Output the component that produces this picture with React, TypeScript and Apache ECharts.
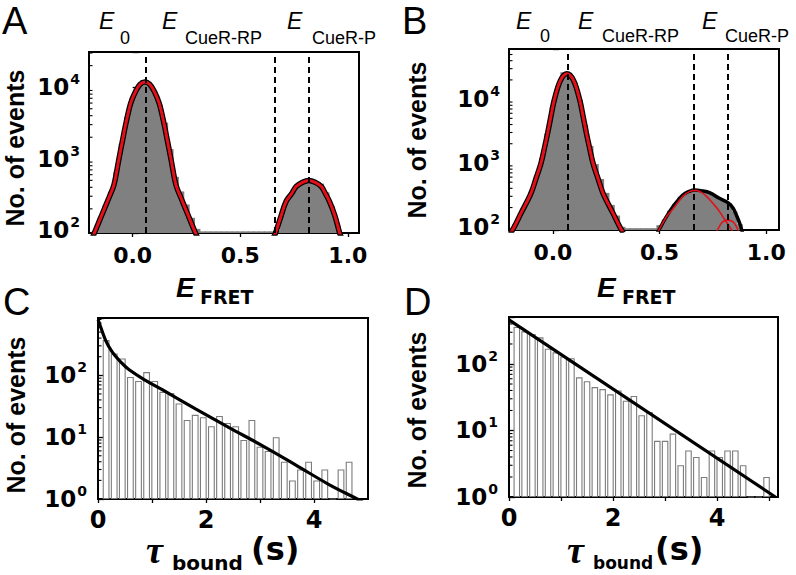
import React, { useEffect, useRef } from 'react';
import * as echarts from 'echarts';

// ---------- data ----------
const E_BINS = [-0.2, -0.175, -0.15, -0.125, -0.1, -0.075, -0.05, -0.025, 0, 0.025, 0.05, 0.075, 0.1, 0.125, 0.15, 0.175, 0.2, 0.225, 0.25, 0.275, 0.3, 0.325, 0.35, 0.375, 0.4, 0.425, 0.45, 0.475, 0.5, 0.525, 0.55, 0.575, 0.6, 0.625, 0.65, 0.675, 0.7, 0.725, 0.75, 0.775, 0.8, 0.825, 0.85, 0.875, 0.9, 0.925, 0.95, 0.975, 1.0];

const HIST_A = [63, 98, 148, 224, 347, 660, 1620, 3800, 7100, 10000, 12600, 11100, 8800, 5700, 3200, 1370, 560, 350, 230, 150, 105, 97, 97, 97, 97, 97, 97, 97, 97, 97, 97, 97, 97, 97, 97, 100, 195, 285, 370, 437, 480, 495, 470, 450, 340, 220, 120, 63, null];
const HIST_B = [76, 110, 162, 240, 355, 630, 1200, 2900, 7600, 16000, 26300, 24000, 18600, 9800, 3900, 1850, 960, 560, 340, 220, 150, 100, 95, 95, 95, 95, 95, 95, 106, 130, 178, 230, 295, 330, 363, 376, 363, 347, 316, 285, 257, 233, 174, 110, 60, null, null, null, null];

const FIT_A1 = [[-0.2, 63], [-0.178, 92], [-0.14, 174], [-0.11, 288], [-0.087, 433], [-0.065, 955], [-0.048, 1750], [-0.031, 3160], [-0.009, 6000], [0.015, 8900], [0.035, 11000], [0.057, 11800], [0.079, 11000], [0.099, 8900], [0.123, 6000], [0.145, 3160], [0.162, 1750], [0.179, 955], [0.201, 433], [0.224, 288], [0.254, 174], [0.292, 92], [0.31, 70]];
const FIT_A2 = [[0.655, 80], [0.664, 92], [0.69, 160], [0.713, 253], [0.74, 330], [0.76, 410], [0.79, 470], [0.818, 498], [0.848, 470], [0.877, 410], [0.895, 330], [0.915, 253], [0.94, 160], [0.962, 92], [0.97, 80]];
const FIT_B1 = [[-0.2, 78], [-0.181, 100], [-0.15, 162], [-0.103, 334], [-0.08, 562], [-0.056, 990], [-0.04, 1700], [-0.025, 2920], [-0.01, 5250], [0.0066, 9750], [0.035, 19500], [0.066, 24950], [0.097, 19500], [0.1254, 9750], [0.142, 5250], [0.157, 2920], [0.172, 1700], [0.188, 990], [0.212, 562], [0.235, 334], [0.282, 162], [0.313, 100], [0.33, 80]];
const FIT_B2_SUM = [[0.485, 75], [0.497, 89], [0.53, 140], [0.5625, 206], [0.609, 315], [0.64, 360], [0.664, 377], [0.7, 365], [0.734, 342], [0.78, 279], [0.825, 233], [0.845, 195], [0.86, 153], [0.875, 115], [0.885, 89], [0.892, 75]];
const FIT_B2_RP = [[0.485, 75], [0.497, 89], [0.53, 140], [0.5625, 190], [0.609, 300], [0.64, 355], [0.664, 372], [0.69, 355], [0.72, 300], [0.75, 233], [0.775, 185], [0.797, 143], [0.82, 110], [0.838, 89], [0.848, 75]];
const FIT_B2_P = [[0.762, 75], [0.772, 89], [0.789, 113], [0.805, 124], [0.82, 127], [0.835, 124], [0.851, 113], [0.868, 89], [0.878, 75]];

const DASH_A = [0.056, 0.664, 0.819];
const DASH_B = [0.067, 0.664, 0.82];

const TAU_C = [0.15, 0.3, 0.45, 0.6, 0.75, 0.9, 1.05, 1.2, 1.35, 1.5, 1.65, 1.8, 1.95, 2.1, 2.25, 2.4, 2.55, 2.7, 2.85, 3.0, 3.15, 3.3, 3.45, 3.6, 3.75, 3.9, 4.05, 4.2, 4.35, 4.5, 4.65];
const HIST_C = [371, 225, 187, 94, 81, 113, 81, 54, 52, 35, 19, 23, 21, 15, 22, 17, 15, 9, 19, 7, 6, 10, 4, 2, 3, 4, 2, 3, 1, 3, 4];
const FIT_C = [[0, 790], [0.015, 736], [0.139, 371], [0.262, 239], [0.417, 165], [0.571, 124], [0.88, 83], [1.19, 58.5], [1.806, 28.7], [2.42, 14.4], [3.04, 7.3], [3.657, 3.57], [4.27, 1.73], [4.8, 1.0], [4.9, 0.9]];

const TAU_D = [0.15, 0.3, 0.45, 0.6, 0.75, 0.9, 1.05, 1.2, 1.35, 1.5, 1.65, 1.8, 1.95, 2.1, 2.25, 2.4, 2.55, 2.7, 2.85, 3.0, 3.15, 3.3, 3.45, 3.6, 3.75, 3.9, 4.05, 4.2, 4.35, 4.5, 4.65, 4.8, 4.95];
const HIST_D = [360, 310, 283, 252, 170, 150, 130, 122, 63, 55, 45, 42, 35, 40, 28, 33, 17, 19, 7, 7, 9, 3, 5, 4, 2, 5, 4, 5, 5, 3, 1, 1, 2];
const FIT_D = [[0, 460], [5.12, 1]];

const MINOR_A = [200, 300, 400, 500, 600, 700, 800, 900, 2000, 3000, 4000, 5000, 6000, 7000, 8000, 9000, 20000, 30000];
const MINOR_B = [200, 300, 400, 500, 600, 700, 800, 900, 2000, 3000, 4000, 5000, 6000, 7000, 8000, 9000, 20000, 30000, 40000, 50000, 60000];
const MINOR_C = [2, 3, 4, 5, 6, 7, 8, 9, 20, 30, 40, 50, 60, 70, 80, 90, 200, 300, 400, 500, 600, 700, 800];
const MINOR_D = [2, 3, 4, 5, 6, 7, 8, 9, 20, 30, 40, 50, 60, 70, 80, 90, 200, 300, 400, 500];

const E_TICKS = [0, 0.5, 1.0];

// ---------- layout ----------
const AX = { xMin: -0.203, xMax: 1.052, yMin: 92, yMax: 31000 };
const BX = { xMin: -0.206, xMax: 1.06, yMin: 89, yMax: 61000 };
const CX = { xMin: 0, xMax: 5, yMin: 1, yMax: 845 };
const DX = { xMin: 0, xMax: 5.17, yMin: 1, yMax: 509 };

const TICK_FONT = 'DejaVu Sans';
const RED = '#e3101a';
const GRAY = '#808080';

function logFmt(v: number) {
  const e = Math.log10(v);
  const r = Math.round(e);
  if (Math.abs(e - r) > 1e-6) return '';
  return `{b|10}{s|${r}}`;
}

function yAxisFor(i: number, r: any, margin: number) {
  return {
    type: 'log', gridIndex: i, min: r.yMin, max: r.yMax, logBase: 10,
    axisLine: { show: false },
    axisTick: { show: true, inside: true, length: 6, lineStyle: { color: '#000', width: 1.3 } },
    splitLine: { show: false },
    axisLabel: {
      margin, formatter: logFmt,
      rich: {
        b: { fontSize: 23, fontWeight: 'bold', fontFamily: TICK_FONT, color: '#000', lineHeight: 30 },
        s: { fontSize: 14, fontWeight: 'bold', fontFamily: TICK_FONT, color: '#000', lineHeight: 13, verticalAlign: 'top', padding: [0, 0, 0, 1] },
      },
    },
  };
}

function xAxisE(i: number, r: any) {
  return {
    type: 'value', gridIndex: i, min: r.xMin, max: r.xMax,
    axisLine: { show: false },
    splitLine: { show: false },
    axisTick: { show: true, customValues: E_TICKS, length: 4, lineStyle: { color: '#000', width: 1.3 } },
    axisLabel: {
      customValues: E_TICKS, margin: 11, fontSize: 22, fontWeight: 'bold', fontFamily: TICK_FONT, color: '#000',
      formatter: (v: number) => v.toFixed(1),
    },
  };
}

function xAxisT(i: number, r: any) {
  return {
    type: 'value', gridIndex: i, min: r.xMin, max: r.xMax, interval: 1,
    axisLine: { show: false },
    splitLine: { show: false },
    axisTick: { show: true, length: 4, lineStyle: { color: '#000', width: 1.3 } },
    axisLabel: {
      margin: 9, fontSize: 24, fontWeight: 'bold', fontFamily: TICK_FONT, color: '#000',
      formatter: (v: number) => (Math.abs(v % 2) < 1e-9 ? String(v) : ''),
      showMaxLabel: false,
    },
  };
}

function minorTicks(i: number, xMin: number, vals: number[]) {
  return {
    type: 'custom', xAxisIndex: i, yAxisIndex: i, silent: true, clip: false, z: 5,
    data: vals.map((v) => [xMin, v]),
    renderItem: (_p: any, api: any) => {
      const p = api.coord([api.value(0), api.value(1)]);
      return { type: 'line', shape: { x1: p[0], y1: p[1], x2: p[0] + 3.5, y2: p[1] }, style: { stroke: '#000', lineWidth: 1.1 } };
    },
  };
}

function dashed(xs: number[]) {
  return {
    symbol: 'none', silent: true, label: { show: false },
    lineStyle: { color: '#000', type: [6, 4], width: 2 },
    emphasis: { disabled: true },
    data: xs.map((x) => ({ xAxis: x })),
  };
}

function outlinedFit(i: number, data: number[][]) {
  return [
    { type: 'line', xAxisIndex: i, yAxisIndex: i, data, smooth: 0.35, showSymbol: false, silent: true, z: 3, lineStyle: { color: '#000', width: 5.5 } },
    { type: 'line', xAxisIndex: i, yAxisIndex: i, data, smooth: 0.35, showSymbol: false, silent: true, z: 4, lineStyle: { color: RED, width: 3 } },
  ];
}

function txt(x: number, y: number, text: string, font: string, extra: any = {}) {
  return { type: 'text', x, y, silent: true, style: { text, font, fill: '#000', verticalAlign: 'middle', align: 'left', ...extra } };
}

function vtxt(x: number, y: number, text: string, font: string) {
  return { type: 'text', x, y, rotation: Math.PI / 2, silent: true, style: { text, font, fill: '#000', align: 'center', verticalAlign: 'middle' } };
}

export default function App() {
  const ref = useRef<HTMLDivElement>(null);
  useEffect(() => {
    document.body.style.margin = '0';
    const chart = echarts.init(ref.current!, undefined, { renderer: 'svg' });
    const gridBase = { show: true, borderColor: '#000', borderWidth: 2, backgroundColor: 'transparent', containLabel: false };
    const topE = 'italic 23px "Liberation Sans"';
    const topSub = '18px "Liberation Sans"';
    const yTitle = 'bold 25px "Liberation Sans"';
    const histStyle = { color: GRAY, borderWidth: 0 };
    const option: any = {
      animation: false,
      grid: [
        { ...gridBase, left: 89, top: 52, width: 270, height: 181 },
        { ...gridBase, left: 509, top: 49, width: 270, height: 181 },
        { ...gridBase, left: 98, top: 318, width: 270, height: 181 },
        { ...gridBase, left: 509, top: 317, width: 269, height: 180 },
      ],
      xAxis: [xAxisE(0, AX), xAxisE(1, BX), xAxisT(2, CX), xAxisT(3, DX)],
      yAxis: [yAxisFor(0, AX, 9), yAxisFor(1, BX, 9), yAxisFor(2, CX, 11), yAxisFor(3, DX, 11)],
      series: [
        {
          type: 'bar', xAxisIndex: 0, yAxisIndex: 0, silent: true, barWidth: 6.4,
          data: E_BINS.map((x, k) => [x, HIST_A[k]]),
          itemStyle: histStyle,
          markLine: dashed(DASH_A),
        },
        ...outlinedFit(0, FIT_A1),
        ...outlinedFit(0, FIT_A2),
        minorTicks(0, AX.xMin, MINOR_A),
        {
          type: 'bar', xAxisIndex: 1, yAxisIndex: 1, silent: true, barWidth: 6.4,
          data: E_BINS.map((x, k) => [x, HIST_B[k]]),
          itemStyle: histStyle,
          markLine: dashed(DASH_B),
        },
        ...outlinedFit(1, FIT_B1),
        { type: 'line', xAxisIndex: 1, yAxisIndex: 1, data: FIT_B2_SUM, smooth: 0.35, showSymbol: false, silent: true, z: 3, lineStyle: { color: '#000', width: 3.5 } },
        { type: 'line', xAxisIndex: 1, yAxisIndex: 1, data: FIT_B2_RP, smooth: 0.35, showSymbol: false, silent: true, z: 4, lineStyle: { color: RED, width: 1.6 } },
        { type: 'line', xAxisIndex: 1, yAxisIndex: 1, data: FIT_B2_P, smooth: 0.35, showSymbol: false, silent: true, z: 4, lineStyle: { color: RED, width: 1.6 } },
        minorTicks(1, BX.xMin, MINOR_B),
        {
          type: 'bar', xAxisIndex: 2, yAxisIndex: 2, silent: true, barCategoryGap: '16%',
          data: TAU_C.map((x, k) => [x, HIST_C[k]]),
          itemStyle: { color: '#fff', borderColor: '#7c7c7c', borderWidth: 1.1 },
        },
        { type: 'line', xAxisIndex: 2, yAxisIndex: 2, data: FIT_C, smooth: 0.4, showSymbol: false, silent: true, z: 3, lineStyle: { color: '#000', width: 3.2 } },
        minorTicks(2, CX.xMin, MINOR_C),
        {
          type: 'bar', xAxisIndex: 3, yAxisIndex: 3, silent: true, barCategoryGap: '16%',
          data: TAU_D.map((x, k) => [x, HIST_D[k]]),
          itemStyle: { color: '#fff', borderColor: '#7c7c7c', borderWidth: 1.1 },
        },
        { type: 'line', xAxisIndex: 3, yAxisIndex: 3, data: FIT_D, showSymbol: false, silent: true, z: 3, lineStyle: { color: '#000', width: 3.2 } },
        minorTicks(3, DX.xMin, MINOR_D),
      ],
      graphic: [
        // panel letters
        txt(2, 21, 'A', '38px "Liberation Sans"'),
        txt(402, 21, 'B', '38px "Liberation Sans"'),
        txt(3, 302, 'C', '38px "Liberation Sans"'),
        txt(404, 302, 'D', '38px "Liberation Sans"'),
        // top labels A
        txt(99, 20.5, 'E', topE), txt(120, 37.5, '0', topSub),
        txt(162, 20.5, 'E', topE), txt(185, 37.5, 'CueR-RP', topSub),
        txt(287, 20.5, 'E', topE), txt(312, 37.5, 'CueR-P', topSub),
        // top labels B
        txt(516, 20.5, 'E', topE), txt(540, 36, '0', topSub),
        txt(578, 20.5, 'E', topE), txt(602, 36, 'CueR-RP', topSub),
        txt(702, 20.5, 'E', topE), txt(725, 36, 'CueR-P', topSub),
        // y titles
        vtxt(15, 148, 'No. of events', yTitle),
        vtxt(417, 140, 'No. of events', yTitle),
        vtxt(16, 415, 'No. of events', yTitle),
        vtxt(417, 410, 'No. of events', yTitle),
        // x titles A/B
        txt(176, 287, 'E', 'italic bold 28px "Liberation Sans"'), txt(200, 297, 'FRET', 'bold 19px "DejaVu Sans"'),
        txt(597, 287, 'E', 'italic bold 28px "Liberation Sans"'), txt(622, 297, 'FRET', 'bold 19px "DejaVu Sans"'),
        // x titles C/D
        txt(146, 550, 'τ', 'italic bold 38px "Liberation Serif"'), txt(172, 563, 'bound', 'bold 20px "DejaVu Sans"'), txt(251, 549, '(s)', 'bold 32px "DejaVu Sans"'),
        txt(567, 550, 'τ', 'italic bold 38px "Liberation Serif"'), txt(593, 563, 'bound', 'bold 17px "DejaVu Sans"'), txt(655, 549, '(s)', 'bold 32px "DejaVu Sans"'),
      ],
    };
    chart.setOption(option);
    return () => chart.dispose();
  }, []);
  return <div ref={ref} style={{ width: 796, height: 575 }} />;
}
